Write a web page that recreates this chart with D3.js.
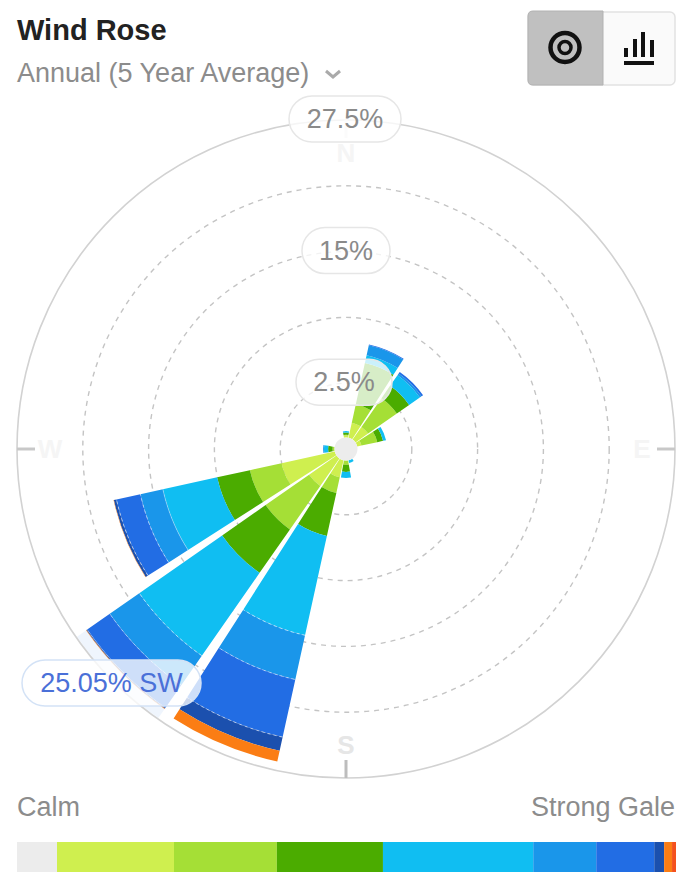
<!doctype html>
<html>

<head>
    <meta charset="UTF-8">
    <title>Wind Rose</title>
    <script src="https://d3js.org/d3.v7.min.js"></script>
    <style>
        body { margin: 0; background: #fff; }
        text { font-family: "Liberation Sans", Arial, sans-serif; }
    </style>
</head>

<body>
    <script>
        var width = 676;
        var height = 872;

        var directions = ["N", "NNE", "NE", "ENE", "E", "ESE", "SE", "SSE", "S", "SSW", "SW", "WSW", "W", "WNW", "NW", "NNW"];

        // percent of time per direction, one array per wind class
        var lightAir = [.001, .064, .064, .005, 0, 0, 0, 0, 0, .082, .301, .797, 0, 0, 0, 0];
        var lightBreeze = [.001, .255, .621, .108, 0, 0, 0, 0, .005, .219, 1.708, 1.230, .001, 0, 0, 0];
        var gentleBreeze = [.005, 1.252, .467, .075, 0, 0, 0, 0, .030, 1.311, 3.215, 1.864, .010, 0, 0, 0];
        var moderateBreeze = [.004, .346, .502, .046, 0, 0, 0, .002, .047, 7.008, 10.302, 4.424, .019, 0, 0, 0];
        var freshBreeze = [0, .490, .085, 0, 0, 0, 0, 0, 0, 4.910, 4.997, 2.315, .005, 0, 0, 0];
        var strongBreeze = [0, .041, .088, 0, 0, 0, 0, 0, 0, 8.045, 4.285, 2.779, 0, 0, 0, 0];
        var nearGale = [0, 0, 0, 0, 0, 0, 0, 0, 0, 2.184, .170, .320, 0, 0, 0, 0];
        var gale = [0, 0, 0, 0, 0, 0, 0, 0, 0, 1.789, .072, .043, 0, 0, 0, 0];

        var classColors = ["#cfef4f", "#a5df36", "#4bac00", "#10bef2", "#1a96ea", "#226de4", "#1b50ae", "#fb7d14"];

        var ringLabels = ["2.5%", "15%", "27.5%"];
        var ringSteps = [1, 2, 3, 4, 5];

        // legend shares, calm to strong gale
        var legendShares = [6.07, 17.75, 15.6, 16.1, 22.8, 9.56, 8.8, 1.5, 1.2, 0.6];
        var legendColors = ["#ececec", "#cfef4f", "#a5df36", "#4bac00", "#10bef2", "#1a96ea", "#226de4", "#1b50ae", "#fb7d14", "#f4511e"];

        var cx = 346, cy = 449;
        var outerRadius = 329, calmRadius = 11.5;

        var svg = d3.select("body").append("svg")
            .attr("width", width)
            .attr("height", height)
            .style("display", "block");

        var rows = directions.map(function (d, i) {
            return {
                dir: d, c0: lightAir[i], c1: lightBreeze[i], c2: gentleBreeze[i], c3: moderateBreeze[i],
                c4: freshBreeze[i], c5: strongBreeze[i], c6: nearGale[i], c7: gale[i]
            };
        });
        var stacked = d3.stack().keys(["c0", "c1", "c2", "c3", "c4", "c5", "c6", "c7"])(rows);

        var angle = d3.scaleBand().domain(directions).range([-Math.PI / 16, 2 * Math.PI - Math.PI / 16]);
        var halfWedge = 10.1 * Math.PI / 180;
        var radius = d3.scaleSqrt().domain([0, 27.06]).range([calmRadius, calmRadius + 317.5]);
        var ringRadius = d3.scaleLinear().domain([0, 5]).range([0, outerRadius]);

        function midAngle(dir) {
            return angle(dir) + angle.bandwidth() / 2;
        }

        var arc = d3.arc()
            .innerRadius(function (d) { return radius(d[0]); })
            .outerRadius(function (d) { return radius(d[1]); })
            .startAngle(function (d) { return midAngle(d.data.dir) - halfWedge; })
            .endAngle(function (d) { return midAngle(d.data.dir) + halfWedge; });

        // pale dashed seam along the outer edge of a band
        var seam = d3.arc()
            .innerRadius(function (d) { return radius(d[1]); })
            .outerRadius(function (d) { return radius(d[1]); })
            .startAngle(function (d) { return midAngle(d.data.dir) - halfWedge; })
            .endAngle(function (d) { return midAngle(d.data.dir) + halfWedge; });

        // header
        svg.append("text").attr("x", 17).attr("y", 40)
            .style("font-size", "29px").style("font-weight", "bold").style("fill", "#222")
            .text("Wind Rose");
        svg.append("text").attr("x", 17).attr("y", 82)
            .style("font-size", "27px").style("fill", "#8c8c8c")
            .text("Annual (5 Year Average)");
        svg.append("path").attr("d", "M326 71 L333 77 L340 71")
            .attr("fill", "none").attr("stroke", "#aaa").attr("stroke-width", 3);

        // toggle
        svg.append("rect").attr("x", 528).attr("y", 12).attr("width", 147).attr("height", 73).attr("rx", 5)
            .attr("fill", "#fafafa").attr("stroke", "#e2e2e2").attr("stroke-width", 1.5);
        svg.append("path").attr("d", "M603 11 L533 11 Q528 11 528 16 L528 80 Q528 85 533 85 L603 85 Z")
            .attr("fill", "#c0c0c0").attr("stroke", "#b2b2b2");
        svg.append("circle").attr("cx", 565).attr("cy", 47.5).attr("r", 14.5)
            .attr("fill", "none").attr("stroke", "#111").attr("stroke-width", 4.5);
        svg.append("circle").attr("cx", 565).attr("cy", 47.5).attr("r", 6)
            .attr("fill", "none").attr("stroke", "#111").attr("stroke-width", 3.5);
        svg.append("path")
            .attr("d", "M626 48 V57 M635 39 V57 M643 32 V57 M652 40 V57 M624 63 H654")
            .attr("fill", "none").attr("stroke", "#111").attr("stroke-width", 4);

        var chart = svg.append("g").attr("transform", "translate(" + cx + "," + cy + ")");

        // rings
        chart.selectAll("circle.ring").data(ringSteps).enter().append("circle")
            .attr("class", "ring")
            .attr("r", function (d) { return ringRadius(d); })
            .attr("fill", "none")
            .attr("stroke", function (d) { return d === 5 ? "#d2d2d2" : "#c4c4c4"; })
            .attr("stroke-width", function (d) { return d === 5 ? 1.6 : 1.4; })
            .attr("stroke-dasharray", function (d) { return d === 5 ? null : "5,5"; });

        // compass ticks and letters
        var compass = [
            { t: "N", dir: "N", tick: "#eeeeee", fill: "#f5f5f5" },
            { t: "E", dir: "E", tick: "#c8c8c8", fill: "#f5f5f5" },
            { t: "S", dir: "S", tick: "#bdbdbd", fill: "#e6e6e6" },
            { t: "W", dir: "W", tick: "#c8c8c8", fill: "#f5f5f5" }
        ];
        compass.forEach(function (c) {
            var a = midAngle(c.dir);
            var sx = Math.sin(a), sy = -Math.cos(a);
            chart.append("line")
                .attr("x1", sx * outerRadius).attr("y1", sy * outerRadius)
                .attr("x2", sx * (outerRadius - 18)).attr("y2", sy * (outerRadius - 18))
                .attr("stroke", c.tick).attr("stroke-width", 3);
            chart.append("text")
                .attr("x", sx * (outerRadius - 33)).attr("y", sy * (outerRadius - 33) + 9)
                .attr("text-anchor", "middle")
                .style("font-size", "26px").style("font-weight", "bold").style("fill", c.fill)
                .text(c.t);
        });

        // hovered direction highlight
        chart.append("path")
            .attr("d", d3.arc()({
                innerRadius: calmRadius, outerRadius: outerRadius - 1,
                startAngle: midAngle("SW") - halfWedge, endAngle: midAngle("SW") + halfWedge
            }))
            .attr("fill", "#226de4").attr("opacity", 0.07);

        // wedges
        var bands = chart.selectAll("g.band").data(stacked).enter().append("g")
            .attr("class", "band")
            .attr("fill", function (d, i) { return classColors[i]; });
        bands.selectAll("path")
            .data(function (d) { return d.filter(function (p) { return p[1] > p[0]; }); })
            .enter().append("path")
            .attr("d", arc);

        // seams only show on the big blue bands
        chart.selectAll("g.seams").data(stacked.slice(3, 6)).enter().append("g")
            .attr("class", "seams")
            .selectAll("path")
            .data(function (d) { return d.filter(function (p) { return p[1] > p[0] && p[1] > 5; }); })
            .enter().append("path")
            .attr("d", seam)
            .attr("fill", "none")
            .attr("stroke", "#fff").attr("stroke-opacity", 0.35).attr("stroke-dasharray", "3,3");

        chart.append("circle").attr("r", calmRadius).attr("fill", "#ececec");

        // ring labels
        function pill(x0, y0, w, h, label, color, border, size) {
            svg.append("rect").attr("x", x0).attr("y", y0).attr("width", w).attr("height", h).attr("rx", h / 2)
                .attr("fill", "#fff").attr("fill-opacity", 0.78)
                .attr("stroke", border).attr("stroke-width", 1.5);
            svg.append("text").attr("x", x0 + w / 2).attr("y", y0 + h / 2 + 9)
                .attr("text-anchor", "middle")
                .style("font-size", size + "px").style("fill", color)
                .text(label);
        }
        ringLabels.forEach(function (label, i) {
            var r = ringRadius(2 * i + 1);
            var w = [96, 88, 112][i];
            pill(cx - w / 2 + [-2, 0, -1][i], cy - r - 24, w, 46, label, "#8a8a8a", "#e6e6e6", 27);
        });
        pill(22, 660, 179, 46, "25.05% SW", "#4a70d8", "#d3e2f6", 27);

        // legend
        svg.append("text").attr("x", 17).attr("y", 816)
            .style("font-size", "27px").style("fill", "#8c8c8c").text("Calm");
        svg.append("text").attr("x", 675).attr("y", 816).attr("text-anchor", "end")
            .style("font-size", "27px").style("fill", "#8c8c8c").text("Strong Gale");

        var legendX = d3.scaleLinear().domain([0, d3.sum(legendShares)]).range([17, 676]);
        var running = d3.cumsum(legendShares);
        svg.selectAll("rect.legend").data(legendShares).enter().append("rect")
            .attr("class", "legend")
            .attr("x", function (d, i) { return legendX(running[i] - d); })
            .attr("y", 842)
            .attr("width", function (d) { return legendX(d) - legendX(0); })
            .attr("height", 30)
            .attr("fill", function (d, i) { return legendColors[i]; });
    </script>
</body>

</html>
